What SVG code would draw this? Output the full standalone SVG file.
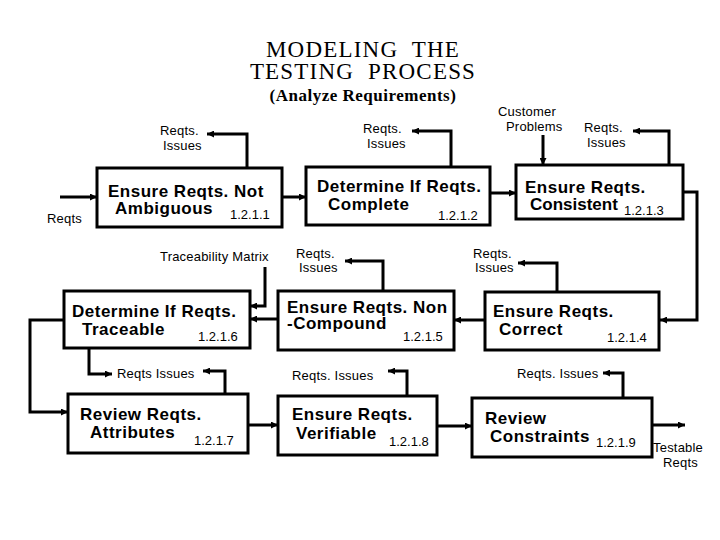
<svg xmlns="http://www.w3.org/2000/svg" width="720" height="540" viewBox="0 0 720 540">
<style>
.box{fill:#fff;stroke:#000;stroke-width:3}
.t{font-family:"Liberation Sans",Arial,sans-serif;font-weight:bold;font-size:17px;letter-spacing:0.5px;fill:#000}
.n{font-family:"Liberation Sans",Arial,sans-serif;font-size:13px;fill:#000}
.l{font-family:"Liberation Sans",Arial,sans-serif;font-size:13px;letter-spacing:0.2px;fill:#000}
.c{fill:none;stroke:#000;stroke-width:3;marker-end:url(#ah)}
.ti{font-family:"Liberation Serif","Times New Roman",serif;font-size:23px;letter-spacing:1.2px;fill:#000;text-anchor:middle}
</style>
<defs>
<marker id="ah" viewBox="0 0 10 10" refX="10" refY="5" markerWidth="8" markerHeight="7" markerUnits="userSpaceOnUse" orient="auto">
<path d="M0,0 L10,5 L0,10 z" fill="#000"/>
</marker>
</defs>
<rect width="720" height="540" fill="#fff"/>
<g id="title">
<text class="ti" x="363" y="57" xml:space="preserve">MODELING  THE</text>
<text class="ti" x="363" y="79" xml:space="preserve">TESTING  PROCESS</text>
<text x="363" y="101" style="font-family:'Liberation Serif','Times New Roman',serif;font-size:17px;letter-spacing:0.5px;font-weight:bold;text-anchor:middle">(Analyze Requirements)</text>
</g>
<g id="connectors">
<path class="c" d="M60,197 H97"/>
<path class="c" d="M247,168 V134 H207"/>
<path class="c" d="M282,197 H306"/>
<path class="c" d="M451,166 V131 H412"/>
<path class="c" d="M490,193 H516"/>
<path class="c" d="M543,135 V165"/>
<path class="c" d="M669,165 V131 H633"/>
<path class="c" d="M683,192 H697 V320 H660"/>
<path class="c" d="M557,292 V263 H518"/>
<path class="c" d="M485,320 H454"/>
<path class="c" d="M383,291 V261 H345"/>
<path class="c" d="M278,319 H250"/>
<path class="c" d="M265,267 V306 H250"/>
<path class="c" d="M64,320 H30 V412 H68"/>
<path class="c" d="M89,348 V374 H112"/>
<path class="c" d="M225,394 V371 H203"/>
<path class="c" d="M248,425 H278"/>
<path class="c" d="M407,396 V371 H388"/>
<path class="c" d="M437,426 H472"/>
<path class="c" d="M623,398 V373 H603"/>
<path class="c" d="M652,425 H685"/>
</g>
<g id="labels">
<text class="l" x="47" y="223">Reqts</text>
<text class="l" x="160" y="135">Reqts.</text>
<text class="l" x="163" y="150">Issues</text>
<text class="l" x="363" y="133">Reqts.</text>
<text class="l" x="367" y="148">Issues</text>
<text class="l" x="498" y="116">Customer</text>
<text class="l" x="506" y="131">Problems</text>
<text class="l" x="584" y="132">Reqts.</text>
<text class="l" x="587" y="147">Issues</text>
<text class="l" x="160" y="261">Traceability Matrix</text>
<text class="l" x="296" y="258">Reqts.</text>
<text class="l" x="299" y="272">Issues</text>
<text class="l" x="473" y="258">Reqts.</text>
<text class="l" x="475" y="272">Issues</text>
<text class="l" x="117" y="378">Reqts Issues</text>
<text class="l" x="292" y="380">Reqts. Issues</text>
<text class="l" x="517" y="378">Reqts. Issues</text>
<text class="l" x="653" y="452">Testable</text>
<text class="l" x="663" y="467">Reqts</text>
</g>
<g id="n1211">
<rect class="box" x="97" y="168" width="185" height="59"/>
<text class="t" x="108" y="197">Ensure Reqts. Not</text>
<text class="t" x="115" y="214">Ambiguous</text>
<text class="n" x="230" y="219">1.2.1.1</text>
</g>
<g id="n1212">
<rect class="box" x="306" y="167" width="184" height="58"/>
<text class="t" x="317" y="192">Determine If Reqts.</text>
<text class="t" x="328" y="210">Complete</text>
<text class="n" x="438" y="220">1.2.1.2</text>
</g>
<g id="n1213">
<rect class="box" x="516" y="165" width="167" height="54"/>
<text class="t" x="525" y="193">Ensure Reqts.</text>
<text class="t" x="530" y="210" style="letter-spacing:0">Consistent</text>
<text class="n" x="624" y="215">1.2.1.3</text>
</g>
<g id="n1214">
<rect class="box" x="485" y="292" width="174" height="58"/>
<text class="t" x="493" y="317">Ensure Reqts.</text>
<text class="t" x="499" y="335">Correct</text>
<text class="n" x="607" y="342">1.2.1.4</text>
</g>
<g id="n1215">
<rect class="box" x="278" y="291" width="176" height="59"/>
<text class="t" x="287" y="313">Ensure Reqts. Non</text>
<text class="t" x="287" y="329">-Compound</text>
<text class="n" x="403" y="341">1.2.1.5</text>
</g>
<g id="n1216">
<rect class="box" x="64" y="291" width="186" height="57"/>
<text class="t" x="72" y="317">Determine If Reqts.</text>
<text class="t" x="82" y="335">Traceable</text>
<text class="n" x="198" y="341">1.2.1.6</text>
</g>
<g id="n1217">
<rect class="box" x="68" y="394" width="180" height="59"/>
<text class="t" x="80" y="420">Review Reqts.</text>
<text class="t" x="90" y="438">Attributes</text>
<text class="n" x="194" y="445">1.2.1.7</text>
</g>
<g id="n1218">
<rect class="box" x="278" y="396" width="159" height="59"/>
<text class="t" x="292" y="420">Ensure Reqts.</text>
<text class="t" x="296" y="439">Verifiable</text>
<text class="n" x="389" y="446">1.2.1.8</text>
</g>
<g id="n1219">
<rect class="box" x="472" y="398" width="180" height="59"/>
<text class="t" x="485" y="424">Review</text>
<text class="t" x="490" y="442">Constraints</text>
<text class="n" x="596" y="447">1.2.1.9</text>
</g>
</svg>
